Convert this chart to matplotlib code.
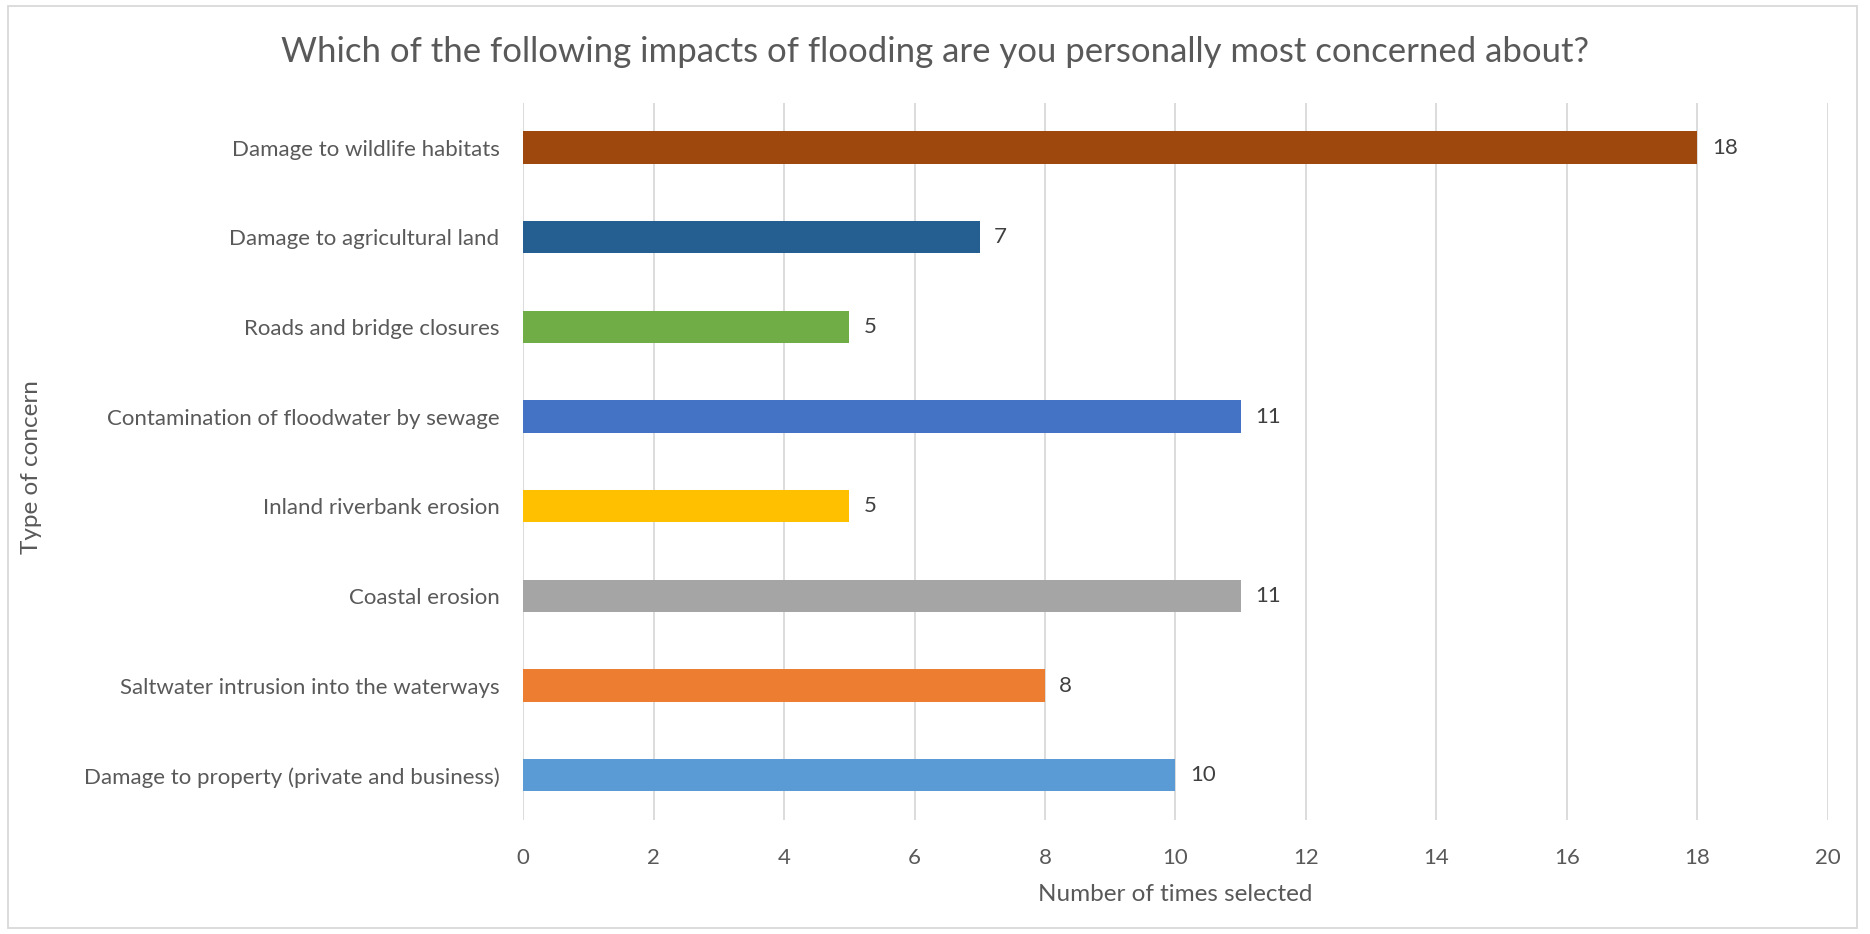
import matplotlib
matplotlib.use("Agg")
import matplotlib.pyplot as plt
from matplotlib.patches import Rectangle

categories = [
    "Damage to property (private and business)",
    "Saltwater intrusion into the waterways",
    "Coastal erosion",
    "Inland riverbank erosion",
    "Contamination of floodwater by sewage",
    "Roads and bridge closures",
    "Damage to agricultural land",
    "Damage to wildlife habitats",
]
values = [10, 8, 11, 5, 11, 5, 7, 18]
colors = ["#5B9BD5", "#ED7D31", "#A5A5A5", "#FFC000", "#4472C4", "#70AD47", "#255E91", "#9E480E"]
xticks = [0, 2, 4, 6, 8, 10, 12, 14, 16, 18, 20]
title = "Which of the following impacts of flooding are you personally most concerned about?"
xlabel = "Number of times selected"
ylabel = "Type of concern"

plt.rcParams['font.family'] = ['Lato', 'DejaVu Sans']
txt = "#595959"

fig = plt.figure(figsize=(18.7, 9.34), dpi=100)
ax = fig.add_axes([0.2797, 0.122, 0.9775 - 0.2797, 0.768])
ypos = list(range(len(categories)))
ax.barh(ypos, values, height=0.36, color=colors, zorder=3)
for y, v in zip(ypos, values):
    ax.text(v + 0.22, y, str(v), va="center", ha="left", fontsize=16, color="#404040")
ax.set_xlim(0, 20)
ax.set_ylim(-0.5, 7.5)
ax.set_xticks(xticks)
ax.set_xticklabels([str(t) for t in xticks], fontsize=16, color=txt)
ax.set_yticks(ypos)
ax.set_yticklabels(categories, fontsize=16, color=txt)
ax.tick_params(axis="x", length=0, pad=20)
ax.tick_params(axis="y", length=0, pad=17)
ax.grid(axis="x", color="#D9D9D9", linewidth=1.3, zorder=0)
for s in ax.spines.values():
    s.set_visible(False)
ax.set_xlabel(xlabel, fontsize=17.5, color=txt, labelpad=12)
fig.text(0.017, 0.5, ylabel, rotation=90, fontsize=17.5, color=txt, va="center", ha="center")
fig.text(0.5, 0.944, title, fontsize=25, color=txt, ha="center", va="center")
fig.patches.append(Rectangle((0.0045, 0.006), 0.9885, 0.988, transform=fig.transFigure,
                             fill=False, edgecolor="#D9D9D9", linewidth=1.3))
fig.savefig("out.png", dpi=100, facecolor="white")
